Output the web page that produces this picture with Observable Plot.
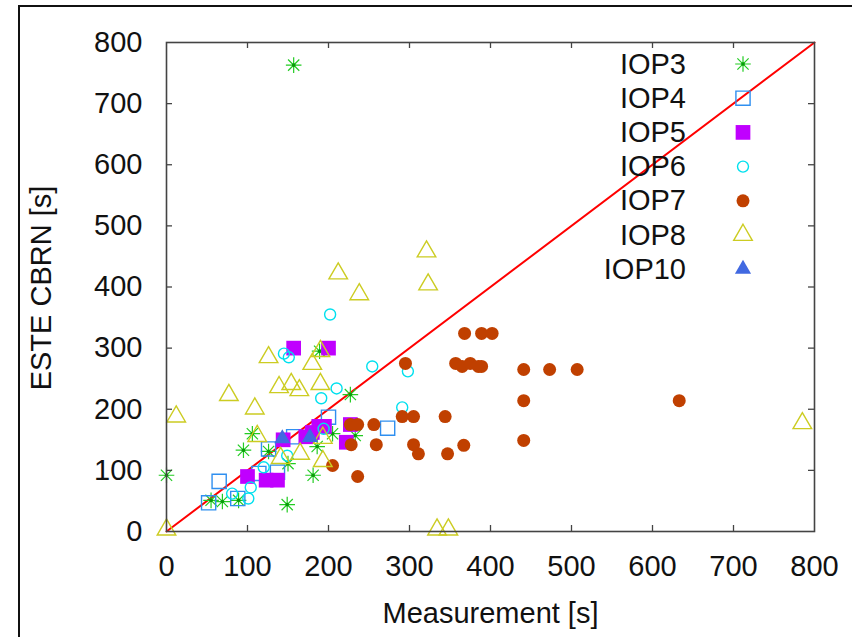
<!DOCTYPE html>
<html>
<head>
<meta charset="utf-8">
<script src="https://cdn.jsdelivr.net/npm/d3@7"></script>
<script src="https://cdn.jsdelivr.net/npm/@observablehq/plot@0.6"></script>
<style>
  html, body { margin: 0; padding: 0; background: #fff; }
  #wrap { position: relative; width: 852px; height: 637px; overflow: hidden; font-family: "Liberation Sans", Arial, sans-serif; }
  #border { position: absolute; left: 18px; top: 5px; width: 900px; height: 700px; border-left: 2px solid #111; border-top: 2px solid #111; box-sizing: border-box; }
  #chart { position: absolute; left: 0; top: 0; }
  #legend { position: absolute; left: 0; top: 0; }
</style>
</head>
<body>
<div id="wrap">
  <div id="border"></div>
  <div id="chart"></div>
  <svg id="legend" width="852" height="637"></svg>
</div>
<script>
// ---- data ----
const xTicks = [0, 100, 200, 300, 400, 500, 600, 700, 800];
const yTicks = [0, 100, 200, 300, 400, 500, 600, 700, 800];
const seriesNames = ["IOP3", "IOP4", "IOP5", "IOP6", "IOP7", "IOP8", "IOP10"];
const diagonal = [[0, 0], [800, 800]];

const iop3 = [[0,92],[55,51],[69,49],[89,51],[149,44],[181,92],[95,133],[106,160],[126,131],[150,111],[186,139],[205,160],[233,157],[227,224],[189,295],[157,763]];
const iop4 = [[52,47],[65,82],[88,54],[126,135],[137,97],[114,95],[157,155],[200,187],[273,169]];
const iop5 = [[157,300],[200,300],[100,90],[123,84],[137,84],[144,150],[172,155],[180,162],[195,172],[188,172],[227,175],[222,146]];
const iop6 = [[145,291],[151,285],[202,355],[254,270],[298,262],[210,234],[191,218],[291,203],[194,168],[149,124],[120,105],[104,72],[81,62],[101,54]];
const iop7 = [[368,324],[389,324],[402,324],[295,275],[357,275],[365,270],[375,275],[385,270],[389,270],[441,265],[473,265],[507,265],[441,214],[633,214],[441,149],[291,188],[305,188],[344,188],[227,175],[236,175],[256,175],[228,142],[259,142],[305,142],[311,127],[347,127],[367,141],[205,108],[236,90]];
const iop8 = [[321,458],[323,404],[212,422],[238,388],[126,285],[180,274],[190,295],[77,223],[109,201],[12,188],[139,236],[154,241],[164,231],[190,241],[112,156],[141,120],[165,127],[193,115],[193,153],[0,3],[334,3],[348,3],[785,177]];
const iop10 = [[143,152],[177,154]];

// ---- styles ----
const star = {
  draw(ctx, size) {
    const r = Math.sqrt(size / Math.PI);
    const d = r * 0.72;
    ctx.moveTo(-r, 0); ctx.lineTo(r, 0);
    ctx.moveTo(0, -r); ctx.lineTo(0, r);
    ctx.moveTo(-d, -d); ctx.lineTo(d, d);
    ctx.moveTo(-d, d); ctx.lineTo(d, -d);
  }
};
const styles = {
  IOP3:  {symbol: star, r: 7.8, stroke: "#22cc22", fill: "none", sw: 1.2},
  IOP4:  {symbol: "square", r: 8.0, stroke: "#2f8ff0", fill: "none", sw: 1.4},
  IOP5:  {symbol: "square", r: 8.3, stroke: "none", fill: "#c000ff", sw: 0},
  IOP6:  {symbol: "circle", r: 5.5, stroke: "#00e0ee", fill: "none", sw: 1.4},
  IOP7:  {symbol: "circle", r: 6.5, stroke: "none", fill: "#c04000", sw: 0},
  IOP8:  {symbol: "triangle", r: 6.9, stroke: "#cccc22", fill: "none", sw: 1.4},
  IOP10: {symbol: "triangle", r: 6.0, stroke: "none", fill: "#4169e1", sw: 0}
};
const seriesData = {IOP3: iop3, IOP4: iop4, IOP5: iop5, IOP6: iop6, IOP7: iop7, IOP8: iop8, IOP10: iop10};

const W = 852, H = 637;
const mL = 166, mR = 38, mT = 42, mB = 106;
const innerW = W - mL - mR, innerH = H - mT - mB;
const tickLen = 6;
const axisColor = "#444";
const FS = 29;

const dotMarks = [];
for (const name of seriesNames) {
  const s = styles[name];
  dotMarks.push(Plot.dot(seriesData[name], {
    x: d => d[0], y: d => d[1], symbol: s.symbol, r: s.r,
    stroke: s.stroke, fill: s.fill, strokeWidth: s.sw
  }));
  if (name === "IOP3") {
    dotMarks.push(Plot.dot(seriesData[name], {x: d => d[0], y: d => d[1], r: 1.8, fill: "#0a9a0a", stroke: "none"}));
  }
}

const chart = Plot.plot({
  width: W, height: H,
  marginLeft: mL, marginRight: mR, marginTop: mT, marginBottom: mB,
  style: {fontFamily: '"Liberation Sans", Arial, sans-serif', fontSize: FS + "px", color: "#111", background: "transparent"},
  x: {domain: [0, 800]},
  y: {domain: [0, 800]},
  marks: [
    Plot.line(diagonal, {x: d => d[0], y: d => d[1], stroke: "#ff0000", strokeWidth: 2}),
    ...dotMarks,
    Plot.frame({stroke: axisColor, strokeWidth: 1.6}),
    Plot.tickX(xTicks.slice(1, -1), {x: d => d, insetTop: innerH - tickLen, stroke: axisColor, strokeWidth: 1.3}),
    Plot.tickX(xTicks.slice(1, -1), {x: d => d, insetBottom: innerH - tickLen, stroke: axisColor, strokeWidth: 1.3}),
    Plot.tickY(yTicks.slice(1, -1), {y: d => d, insetRight: innerW - tickLen, stroke: axisColor, strokeWidth: 1.3}),
    Plot.tickY(yTicks.slice(1, -1), {y: d => d, insetLeft: innerW - tickLen, stroke: axisColor, strokeWidth: 1.3}),
    Plot.axisX({ticks: xTicks, tickSize: 0, tickPadding: 24, label: null, fontSize: FS, fill: "#111"}),
    Plot.axisY({ticks: yTicks, tickSize: 0, tickPadding: 24, label: null, fontSize: FS, fill: "#111"}),
    Plot.text(["Measurement [s]"], {frameAnchor: "bottom", lineAnchor: "middle", dy: 82, fontSize: FS, fill: "#111"}),
    Plot.text(["ESTE CBRN [s]"], {frameAnchor: "left", textAnchor: "middle", lineAnchor: "middle", rotate: -90, dx: -125, dy: 1, fontSize: FS, fill: "#111"})
  ]
});
document.getElementById("chart").appendChild(chart);

// ---- legend (inside plot, top right) ----
const leg = d3.select("#legend");
const symMap = {square: d3.symbolSquare, circle: d3.symbolCircle, triangle: d3.symbolTriangle};
seriesNames.forEach((name, i) => {
  const s = styles[name];
  const cy = 64 + i * 34.2;
  leg.append("text")
    .attr("x", 686).attr("y", cy).attr("dy", "0.33em")
    .attr("text-anchor", "end")
    .attr("font-family", '"Liberation Sans", Arial, sans-serif')
    .attr("font-size", FS).attr("fill", "#111")
    .text(name);
  const type = typeof s.symbol === "string" ? symMap[s.symbol] : s.symbol;
  leg.append("path")
    .attr("transform", `translate(743,${cy})`)
    .attr("d", d3.symbol(type, Math.PI * s.r * s.r)())
    .attr("fill", s.fill).attr("stroke", s.stroke).attr("stroke-width", s.sw);
  if (name === "IOP3") {
    leg.append("circle").attr("cx", 743).attr("cy", cy).attr("r", 1.8).attr("fill", "#0a9a0a");
  }
});
</script>
</body>
</html>
